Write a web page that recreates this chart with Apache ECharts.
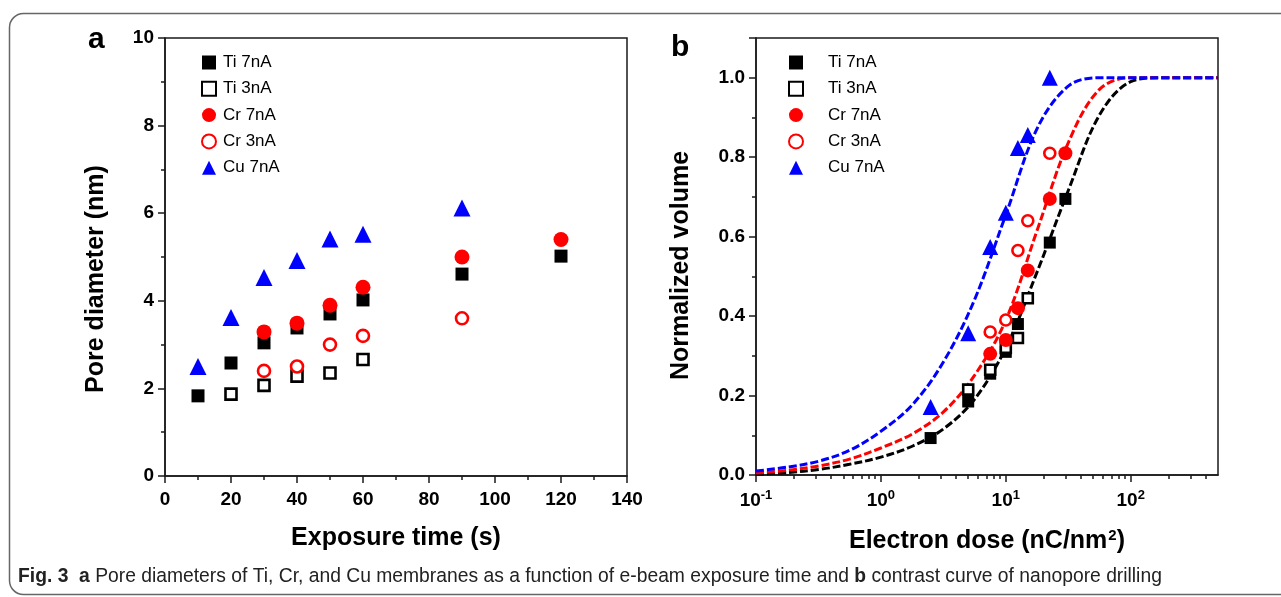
<!DOCTYPE html>
<html>
<head>
<meta charset="utf-8">
<script src="https://cdn.jsdelivr.net/npm/echarts@6/dist/echarts.min.js"></script>
<style>
html, body { margin: 0; padding: 0; background: #fff; }
#main { width: 1281px; height: 597px; }
</style>
</head>
<body>
<div id="main"></div>
<script>
// panel a: exposure time (s) -> pore diameter (nm)
var ti7Time = [10, 20, 30, 40, 50, 60, 90, 120];
var ti7Diam = [1.83, 2.58, 3.04, 3.38, 3.70, 4.02, 4.61, 5.02];
var ti3Time = [20, 30, 40, 50, 60];
var ti3Diam = [1.87, 2.07, 2.28, 2.35, 2.66];
var cr7Time = [30, 40, 50, 60, 90, 120];
var cr7Diam = [3.29, 3.49, 3.90, 4.31, 5.00, 5.40];
var cr3Time = [30, 40, 50, 60, 90];
var cr3Diam = [2.40, 2.50, 3.00, 3.20, 3.60];
var cu7Time = [10, 20, 30, 40, 50, 60, 90];
var cu7Diam = [2.50, 3.62, 4.53, 4.92, 5.41, 5.52, 6.12];

// panel b: electron dose (nC/nm2) -> normalized volume
var ti7Dose = [2.5, 5, 7.5, 10, 12.5, 22.5, 30];
var ti7Vol = [0.093, 0.185, 0.255, 0.31, 0.38, 0.585, 0.695];
var ti3Dose = [5, 7.5, 10, 12.5, 15];
var ti3Vol = [0.215, 0.265, 0.32, 0.345, 0.445];
var cr7Dose = [7.5, 10, 12.5, 15, 22.5, 30];
var cr7Vol = [0.305, 0.34, 0.42, 0.515, 0.695, 0.81];
var cr3Dose = [7.5, 10, 12.5, 15, 22.5];
var cr3Vol = [0.36, 0.39, 0.565, 0.64, 0.81];
var cu7Dose = [2.5, 5, 7.5, 10, 12.5, 15, 22.5];
var cu7Vol = [0.171, 0.357, 0.574, 0.66, 0.823, 0.856, 1.0];

// fitted contrast curves
var fitDose = [0.1, 0.18, 0.32, 0.56, 1, 1.8, 3.2, 5.6, 10, 18, 32, 56, 100, 180, 320, 500];
var fitTi = [0.002, 0.006, 0.014, 0.027, 0.045, 0.073, 0.117, 0.19, 0.32, 0.515, 0.72, 0.905, 0.99, 1.0, 1.0, 1.0];
var fitCr = [0.005, 0.012, 0.023, 0.04, 0.068, 0.104, 0.16, 0.25, 0.39, 0.62, 0.84, 0.97, 1.0, 1.0, 1.0, 1.0];
var fitCu = [0.01, 0.02, 0.035, 0.062, 0.11, 0.178, 0.287, 0.44, 0.655, 0.875, 0.98, 1.0, 1.0, 1.0, 1.0, 1.0];

var doseMajorTicks = [0.1, 1, 10, 100];
var doseMinorTicks = [0.2, 0.3, 0.4, 0.5, 0.6, 0.7, 0.8, 0.9, 2, 3, 4, 5, 6, 7, 8, 9,
    20, 30, 40, 50, 60, 70, 80, 90, 200, 300, 400];
var seriesNames = ['Ti 7nA', 'Ti 3nA', 'Cr 7nA', 'Cr 3nA', 'Cu 7nA'];

function pairs(xs, ys) {
    return xs.map(function (x, i) { return [x, ys[i]]; });
}

var FONT = "'Liberation Sans', Arial, sans-serif";
var AX = '#1a1a1a';

var filled = function (c) { return { color: c, opacity: 1 }; };
var open = function (c) { return { color: '#fff', borderColor: c, borderWidth: 2.6, opacity: 1 }; };

var styles = [
    { symbol: 'rect', size: 13, item: filled('#000') },
    { symbol: 'rect', size: 11, item: open('#000') },
    { symbol: 'circle', size: 15, item: filled('#ff0000') },
    { symbol: 'circle', size: 12, item: open('#ff0000') },
    { symbol: 'triangle', size: 17, item: filled('#0000ff') }
];

var dataA = [pairs(ti7Time, ti7Diam), pairs(ti3Time, ti3Diam), pairs(cr7Time, cr7Diam), pairs(cr3Time, cr3Diam), pairs(cu7Time, cu7Diam)];
var dataB = [pairs(ti7Dose, ti7Vol), pairs(ti3Dose, ti3Vol), pairs(cr7Dose, cr7Vol), pairs(cr3Dose, cr3Vol), pairs(cu7Dose, cu7Vol)];

var series = [];
var fits = [[fitTi, '#000'], [fitCr, '#ff0000'], [fitCu, '#0000ff']];
fits.forEach(function (f, i) {
    series.push({
        name: 'fit' + i, type: 'line', xAxisIndex: 1, yAxisIndex: 1,
        data: pairs(fitDose, f[0]), smooth: 0.35, showSymbol: false, silent: true,
        lineStyle: { color: f[1], width: 3, type: [8, 3] }, z: 1
    });
});
seriesNames.forEach(function (n, i) {
    var s = styles[i];
    series.push({
        name: n, type: 'scatter', xAxisIndex: 0, yAxisIndex: 0,
        symbol: s.symbol, symbolSize: s.size, itemStyle: s.item, data: dataA[i], z: 3
    });
});
seriesNames.forEach(function (n, i) {
    var s = styles[i];
    series.push({
        name: n + ' (b)', type: 'scatter', xAxisIndex: 1, yAxisIndex: 1,
        symbol: s.symbol, symbolSize: s.size - 1, itemStyle: s.item, data: dataB[i], z: 3
    });
});

var tickLabel = { color: '#000', fontFamily: FONT, fontWeight: 'bold', fontSize: 19 };
var axisName = { color: '#000', fontFamily: FONT, fontWeight: 'bold', fontSize: 25 };
var line = { show: true, onZero: false, lineStyle: { color: AX, width: 1.5 } };
var tick = { show: true, length: 7, lineStyle: { color: AX, width: 1.5 } };
var minor = { show: true, splitNumber: 2, length: 4, lineStyle: { color: AX, width: 1.5 } };

function legendFor(left, textPad, suffix) {
    return {
        orient: 'vertical', left: left, top: 49, itemWidth: 14, itemHeight: 14, itemGap: 9.3,
        selectedMode: false,
        data: seriesNames.map(function (n) { return n + suffix; }),
        formatter: function (n) { return n.replace(' (b)', ''); },
        textStyle: { fontFamily: FONT, fontSize: 17, color: '#000', lineHeight: 17, padding: [0, 0, 0, textPad] }
    };
}

var chart = echarts.init(document.getElementById('main'));
chart.setOption({
    animation: false,
    backgroundColor: '#fff',
    grid: [
        { left: 165, top: 38, width: 462, height: 438, show: true, borderColor: AX, borderWidth: 1.5 },
        { left: 756, top: 38, width: 462, height: 437, show: true, borderColor: AX, borderWidth: 1.5 }
    ],
    legend: [legendFor(196, 2, ''), legendFor(783, 20, ' (b)')],
    xAxis: [
        {
            type: 'value', gridIndex: 0, min: 0, max: 140, interval: 20,
            name: 'Exposure time (s)', nameLocation: 'middle', nameGap: 50, nameTextStyle: axisName,
            axisLine: line, axisTick: tick, minorTick: minor, splitLine: { show: false },
            axisLabel: Object.assign({ margin: 14 }, tickLabel)
        },
        {
            type: 'log', logBase: 10, gridIndex: 1, min: 0.1, max: 500, position: 'bottom',
            name: '{t|Electron dose (nC/nm}{s|2}{t|)}', nameLocation: 'middle', nameGap: 53,
            nameTextStyle: {
                rich: {
                    t: axisName,
                    s: { color: '#000', fontFamily: FONT, fontWeight: 'bold', fontSize: 15, verticalAlign: 'top', padding: [0, 0, 11, 1] }
                }
            },
            axisLine: line,
            axisTick: Object.assign({ customValues: doseMajorTicks }, tick),
            splitLine: { show: false },
            axisLabel: {
                margin: 14,
                customValues: doseMajorTicks,
                formatter: function (v) {
                    return '{b|10}{e|' + Math.round(Math.log10(v)) + '}';
                },
                rich: {
                    b: tickLabel,
                    e: { color: '#000', fontFamily: FONT, fontWeight: 'bold', fontSize: 13, verticalAlign: 'top', padding: [0, 0, 11, 0] }
                }
            }
        },
        {
            type: 'log', logBase: 10, gridIndex: 1, min: 0.1, max: 500, position: 'bottom',
            axisLine: { show: false },
            axisTick: { show: true, customValues: doseMinorTicks, length: 4, lineStyle: { color: AX, width: 1.5 } },
            axisLabel: { show: false }, splitLine: { show: false }
        }
    ],
    yAxis: [
        {
            type: 'value', gridIndex: 0, min: 0, max: 10, interval: 2,
            name: 'Pore diameter (nm)', nameLocation: 'middle', nameGap: 56,
            nameTextStyle: Object.assign({ padding: [0, 44, 0, 0] }, axisName),
            axisLine: line, axisTick: tick, minorTick: minor, splitLine: { show: false },
            axisLabel: Object.assign({ margin: 11 }, tickLabel)
        },
        {
            type: 'value', gridIndex: 1, min: 0, max: 1.1, interval: 0.2,
            name: 'Normalized volume', nameLocation: 'middle', nameGap: 62,
            nameTextStyle: Object.assign({ padding: [0, 18, 0, 0] }, axisName),
            axisLine: line, axisTick: tick, minorTick: minor, splitLine: { show: false },
            axisLabel: Object.assign({
                margin: 11,
                formatter: function (v) { return v > 1.05 ? '' : v.toFixed(1); }
            }, tickLabel)
        }
    ],
    graphic: [
        {
            type: 'rect', silent: true, z: 0,
            shape: { x: 9.5, y: 13.5, width: 1320, height: 581, r: 14 },
            style: { fill: 'none', stroke: '#666', lineWidth: 1.5 }
        },
        { type: 'text', left: 88, top: 25, style: { text: 'a', font: 'bold 30px ' + FONT, fill: '#000' } },
        { type: 'text', left: 671, top: 33, style: { text: 'b', font: 'bold 30px ' + FONT, fill: '#000' } },
        {
            type: 'text', left: 18, top: 567,
            style: {
                text: '{b|Fig. 3}  {b|a} Pore diameters of Ti, Cr, and Cu membranes as a function of e-beam exposure time and {b|b} contrast curve of nanopore drilling',
                font: '19.3px ' + FONT, fill: '#222',
                rich: { b: { font: 'bold 19.3px ' + FONT, fill: '#222' } }
            }
        }
    ],
    series: series
});
</script>
</body>
</html>
